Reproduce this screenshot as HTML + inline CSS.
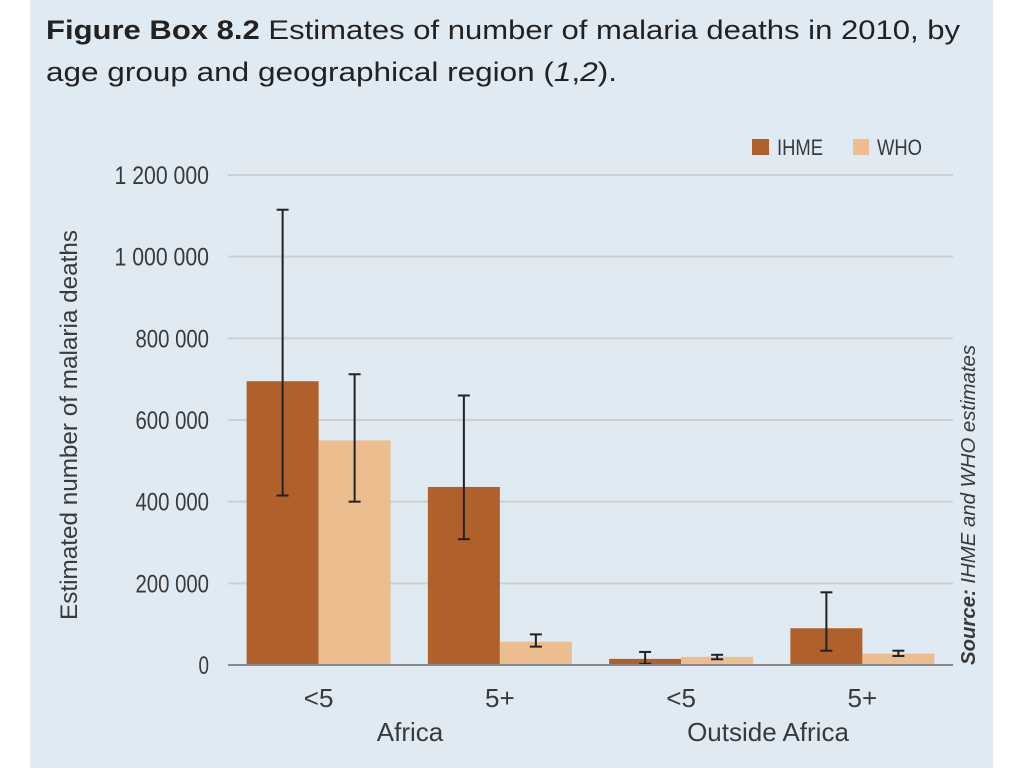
<!DOCTYPE html>
<html><head><meta charset="utf-8"><style>
html,body{margin:0;padding:0;background:#fff;}
body{width:1024px;height:768px;overflow:hidden;position:relative;}
#panel{position:absolute;left:30px;top:0;width:963px;height:768px;background:#dfeaf3;}
svg{position:absolute;left:0;top:0;}
.t{font-family:"Liberation Sans Narrow","Liberation Sans",sans-serif;fill:#3a3a3a;}
</style></head><body>
<div id="panel"></div>
<svg id="chart" width="1024" height="768">
<text x="46" y="39" textLength="914" lengthAdjust="spacingAndGlyphs" style="font-family:'Liberation Sans',sans-serif;font-size:27px;fill:#222"><tspan font-weight="bold">Figure Box 8.2</tspan> Estimates of number of malaria deaths in 2010, by</text>
<text x="46" y="81" textLength="571" lengthAdjust="spacingAndGlyphs" style="font-family:'Liberation Sans',sans-serif;font-size:27px;fill:#222">age group and geographical region (<tspan font-style="italic">1</tspan>,<tspan font-style="italic">2</tspan>).</text>
<text transform="translate(77,425) rotate(-90)" text-anchor="middle" class="t" font-size="24" textLength="390" lengthAdjust="spacingAndGlyphs">Estimated number of malaria deaths</text>
<text transform="translate(975,505) rotate(-90)" text-anchor="middle" class="t" font-size="20" font-style="italic" textLength="320" lengthAdjust="spacingAndGlyphs"><tspan font-weight="bold">Source:</tspan> IHME and WHO estimates</text>
<rect x="752" y="139" width="17" height="16" fill="#b0602a"/>
<text x="777" y="155" class="t" font-size="22" textLength="46" lengthAdjust="spacingAndGlyphs">IHME</text>
<rect x="853" y="139" width="16" height="16" fill="#ebbd8f"/>
<text x="877" y="155" class="t" font-size="22" textLength="45" lengthAdjust="spacingAndGlyphs">WHO</text>
<g id="g"></g>
</svg>
<script>
const categories = ["<5","5+","<5","5+"];
const regions = ["Africa","Outside Africa"];
const ihme = [695000, 436000, 15000, 90000];
const ihmeLo = [415000, 308000, 3000, 35000];
const ihmeHi = [1115000, 660000, 32000, 178000];
const who = [550000, 57000, 20000, 28000];
const whoLo = [400000, 45000, 14000, 22000];
const whoHi = [712000, 75000, 25000, 35000];
const yTicks = [0,200000,400000,600000,800000,1000000,1200000];
const yTickLabels = ["0","200 000","400 000","600 000","800 000","1 000 000","1 200 000"];

const NS="http://www.w3.org/2000/svg";
const g=document.getElementById('g');
const x0=228,x1=953,yBase=665,yTop=175,yMax=1200000;
const y=v=>yBase-(v/yMax)*(yBase-yTop);
const slot=(x1-x0)/categories.length;
const cx=i=>x0+slot*(i+0.5);
function mk(tag,attrs){const e=document.createElementNS(NS,tag);for(const k in attrs)e.setAttribute(k,attrs[k]);g.appendChild(e);return e;}
yTicks.forEach((v,i)=>{
  if(v>0){const l=mk('line',{x1:x0,x2:x1,y1:y(v),y2:y(v),stroke:'#cfcfcf','stroke-width':2});
  
  }
  const lbl=yTickLabels[i];
  const t=mk('text',{x:209,y:y(v)+9,'text-anchor':'end','font-size':25,class:'t',textLength:lbl.length*10.5,lengthAdjust:'spacingAndGlyphs'});
  t.textContent=lbl;
  
  
});
const bw=72;
function err(xc,lo,hi){
  [[xc,y(hi),xc,y(lo)],[xc-6,y(hi),xc+6,y(hi)],[xc-6,y(lo),xc+6,y(lo)]].forEach(c=>{
    const l=mk('line',{x1:c[0],y1:c[1],x2:c[2],y2:c[3],stroke:'#222','stroke-width':2});
    
    
  });
}
categories.forEach((c,i)=>{
  const r1=mk('rect',{x:cx(i)-bw,y:y(ihme[i]),width:bw,height:yBase-y(ihme[i]),fill:'#b0602a'});
  
  
  const r2=mk('rect',{x:cx(i),y:y(who[i]),width:bw,height:yBase-y(who[i]),fill:'#ebbd8f'});
  
  
  err(cx(i)-bw/2,ihmeLo[i],ihmeHi[i]);
  err(cx(i)+bw/2,whoLo[i],whoHi[i]);
  const t=mk('text',{x:cx(i),y:707,'text-anchor':'middle','font-size':26,class:'t'});
  t.textContent=c;
  
  
});
const base=mk('line',{x1:x0,x2:x1,y1:yBase,y2:yBase,stroke:'#888','stroke-width':2});


regions.forEach((r,j)=>{
  const t=mk('text',{x:j===0?410:768,y:741,'text-anchor':'middle','font-size':26,class:'t'});
  t.textContent=r;
  
  
});
</script>
</body></html>
